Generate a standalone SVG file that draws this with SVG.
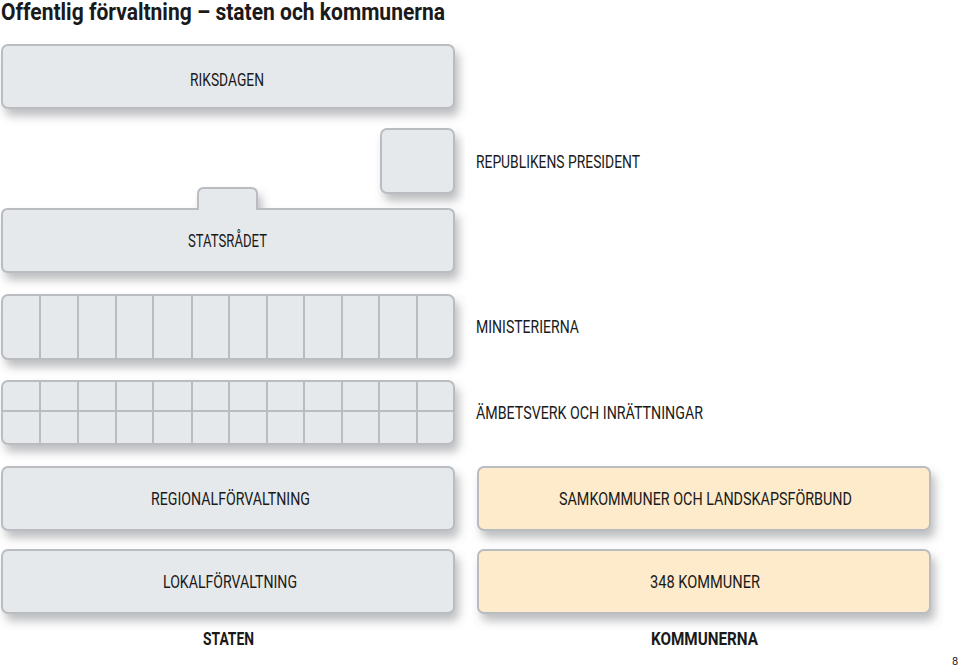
<svg xmlns="http://www.w3.org/2000/svg" width="959" height="667" viewBox="0 0 959 667">
<defs>
<filter id="sh" x="-10%" y="-30%" width="125%" height="180%">
<feDropShadow dx="4" dy="7" stdDeviation="5" flood-color="#6b7075" flood-opacity="0.45"/>
</filter>
</defs>
<style>
.box{fill:#e6e9ec;stroke:#b9bdc1;stroke-width:2}
.kb{fill:#fdebcb;stroke:#b9bdc1;stroke-width:2}
.div{stroke:#b9bdc1;stroke-width:2;fill:none}
.t{font-family:"Liberation Sans Narrow","Roboto","Liberation Sans",sans-serif;font-size:17.5px;fill:#1a1a1a}
.b{font-family:"Liberation Sans Narrow","Roboto","Liberation Sans",sans-serif;font-size:18px;font-weight:bold;fill:#1a1a1a}
.title{font-family:"Liberation Sans Narrow","Roboto","Liberation Sans",sans-serif;font-size:23px;font-weight:bold;fill:#1a1a1a}
</style>
<rect width="959" height="667" fill="#ffffff"/>
<text class="title" x="1" y="20" textLength="444" lengthAdjust="spacingAndGlyphs">Offentlig förvaltning – staten och kommunerna</text>

<g id="riksdagen">
<rect class="box" x="2" y="45" width="452" height="63" rx="6" filter="url(#sh)"/>
<text class="t" x="190" y="86" textLength="74" lengthAdjust="spacingAndGlyphs">RIKSDAGEN</text>
</g>

<g id="president">
<rect class="box" x="381" y="129" width="73" height="64" rx="6" filter="url(#sh)"/>
<text class="t" x="476" y="168" textLength="164" lengthAdjust="spacingAndGlyphs">REPUBLIKENS PRESIDENT</text>
</g>

<g id="statsradet">
<path class="box" filter="url(#sh)" d="M204,188 H251 Q257,188 257,194 V209 H448 Q454,209 454,215 V266 Q454,272 448,272 H8 Q2,272 2,266 V215 Q2,209 8,209 H198 V194 Q198,188 204,188 Z"/>
<text class="t" x="188" y="247" textLength="79" lengthAdjust="spacingAndGlyphs">STATSRÅDET</text>
</g>

<g id="ministerierna">
<rect class="box" x="2" y="295" width="452" height="64" rx="6" filter="url(#sh)"/>
<path class="div" d="M40,296V358M78,296V358M116,296V358M153,296V358M192,296V358M229,296V358M267,296V358M304,296V358M342,296V358M379,296V358M417,296V358"/>
<text class="t" x="476" y="333" textLength="103" lengthAdjust="spacingAndGlyphs">MINISTERIERNA</text>
</g>

<g id="ambetsverk">
<rect class="box" x="2" y="381" width="452" height="63" rx="6" filter="url(#sh)"/>
<path class="div" d="M40,382V443M78,382V443M116,382V443M153,382V443M192,382V443M229,382V443M267,382V443M304,382V443M342,382V443M379,382V443M417,382V443M3,411H453"/>
<text class="t" x="476" y="419" textLength="227" lengthAdjust="spacingAndGlyphs">ÄMBETSVERK OCH INRÄTTNINGAR</text>
</g>

<g id="regional">
<rect class="box" x="2" y="467" width="452" height="63" rx="6" filter="url(#sh)"/>
<text class="t" x="151" y="505" textLength="159" lengthAdjust="spacingAndGlyphs">REGIONALFÖRVALTNING</text>
</g>

<g id="lokal">
<rect class="box" x="2" y="550" width="452" height="63" rx="6" filter="url(#sh)"/>
<text class="t" x="163" y="588" textLength="134" lengthAdjust="spacingAndGlyphs">LOKALFÖRVALTNING</text>
</g>

<g id="samkommuner">
<rect class="kb" x="478" y="467" width="452" height="63" rx="6" filter="url(#sh)"/>
<text class="t" x="559" y="505" textLength="293" lengthAdjust="spacingAndGlyphs">SAMKOMMUNER OCH LANDSKAPSFÖRBUND</text>
</g>

<g id="kommuner">
<rect class="kb" x="478" y="550" width="452" height="63" rx="6" filter="url(#sh)"/>
<text class="t" x="650" y="588" textLength="110" lengthAdjust="spacingAndGlyphs">348 KOMMUNER</text>
</g>

<g id="connectors"></g>

<g id="labels">
<text class="b" x="203" y="645" textLength="51" lengthAdjust="spacingAndGlyphs">STATEN</text>
<text class="b" x="651" y="645" textLength="107" lengthAdjust="spacingAndGlyphs">KOMMUNERNA</text>
<text class="t" x="952" y="665" style="font-size:11px">8</text>
</g>
</svg>
